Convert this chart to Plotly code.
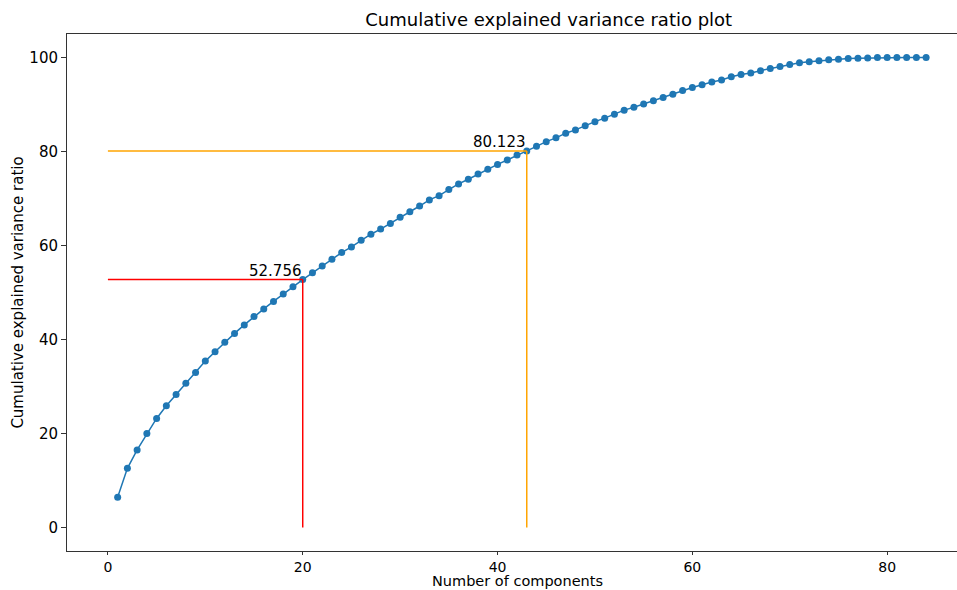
import plotly.graph_objects as go

components = list(range(1, 85))
cum_var = [6.46, 12.6, 16.5, 20.0, 23.2, 25.9, 28.3, 30.7, 33.0, 35.4,
           37.4, 39.4, 41.3, 43.1, 44.9, 46.5, 48.1, 49.7, 51.2, 52.756,
           54.2, 55.65, 57.1, 58.5, 59.7, 61.1, 62.4, 63.5, 64.7, 66.0,
           67.2, 68.4, 69.7, 70.6, 71.9, 73.1, 74.1, 75.2, 76.2, 77.25,
           78.2, 79.25, 80.123, 81.1, 82.1, 82.9, 83.9, 84.6, 85.5, 86.35,
           87.1, 87.9, 88.8, 89.4, 90.1, 90.8, 91.5, 92.2, 93.0, 93.6,
           94.2, 94.8, 95.2, 95.9, 96.4, 96.7, 97.2, 97.65, 98.1, 98.5,
           98.9, 99.1, 99.3, 99.5, 99.65, 99.8, 99.85, 99.9, 100.0, 100.0,
           100.0, 100.0, 100.0, 100.0]

mark1_x, mark1_y = 20, 52.756
mark2_x, mark2_y = 43, 80.123

x_ticks = [0, 20, 40, 60, 80]
y_ticks = [0, 20, 40, 60, 80, 100]

fig = go.Figure()

fig.add_trace(go.Scatter(
    x=components, y=cum_var, mode="lines+markers",
    line=dict(color="#1f77b4", width=1.5),
    marker=dict(color="#1f77b4", size=7),
    showlegend=False, hoverinfo="x+y"))

for mx, my, col in [(mark1_x, mark1_y, "red"), (mark2_x, mark2_y, "orange")]:
    fig.add_trace(go.Scatter(x=[0, mx], y=[my, my], mode="lines",
                             line=dict(color=col, width=1.5), showlegend=False))
    fig.add_trace(go.Scatter(x=[mx, mx], y=[0, my], mode="lines",
                             line=dict(color=col, width=1.5), showlegend=False))
    fig.add_annotation(x=mx, y=my, text=f"{my:.3f}", showarrow=False,
                       xanchor="right", yanchor="bottom", xshift=1, yshift=-2,
                       font=dict(size=15, color="#000000"))

# x-axis title placed just below the tick labels
fig.add_annotation(xref="paper", yref="paper", x=(517 - 67) / (957 - 67), y=0,
                   text="Number of components", showarrow=False,
                   xanchor="center", yanchor="top", yshift=-21, borderpad=0,
                   font=dict(size=14.5, color="#000000"))

font_family = "DejaVu Sans, sans-serif"

fig.update_layout(
    width=957, height=590,
    margin=dict(l=67, r=0, t=34, b=39),
    paper_bgcolor="white", plot_bgcolor="white",
    font=dict(family=font_family, color="#000000"),
    title=dict(text="Cumulative explained variance ratio plot",
               x=518 / 957, xanchor="center", xref="paper",
               y=1 - 20 / 590, yanchor="middle",
               font=dict(size=18, color="#000000")),
)

fig.update_xaxes(
    range=[-4.2, 87.17], tickvals=x_ticks, ticktext=[str(t) for t in x_ticks],
    showgrid=False, zeroline=False,
    showline=True, linecolor="#333333", linewidth=1, mirror=True,
    ticks="outside", ticklen=3, tickcolor="#333333",
    tickfont=dict(size=14, color="#000000"),
    automargin=False,
)
fig.update_yaxes(
    range=[-5.0, 105.0], tickvals=y_ticks, ticktext=[str(t) for t in y_ticks],
    showgrid=False, zeroline=False,
    showline=True, linecolor="#333333", linewidth=1, mirror=False,
    ticks="outside", ticklen=5, tickcolor="#333333",
    tickfont=dict(size=15, color="#000000"),
    title=dict(text="Cumulative explained variance ratio", font=dict(size=15, color="#000000"), standoff=2),
    automargin=False,
)

fig.write_html("out.html", config={"displayModeBar": False},
               post_script="document.body.style.margin='0';document.body.style.padding='0';")
